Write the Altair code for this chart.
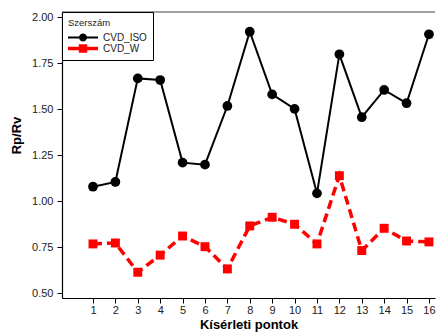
import math
import altair as alt
import pandas as pd

points = list(range(1, 17))
cvd_iso = [1.079, 1.105, 1.668, 1.659, 1.210, 1.199, 1.518, 1.922,
           1.581, 1.502, 1.043, 1.799, 1.457, 1.605, 1.533, 1.908]
cvd_w = [0.768, 0.773, 0.614, 0.707, 0.811, 0.753, 0.632, 0.866,
         0.913, 0.875, 0.768, 1.139, 0.732, 0.853, 0.784, 0.779]
series = ["CVD_ISO", "CVD_W"]
colors = ["#000000", "#ff0000"]
y_ticks = [0.5, 0.75, 1.0, 1.25, 1.5, 1.75, 2.0]

x_dom = [-0.384, 16.27]
y_dom = [0.474, 2.029]

df = pd.DataFrame({
    "pont": points * 2,
    "rprv": cvd_iso + cvd_w,
    "tool": [series[0]] * len(points) + [series[1]] * len(points),
})

FONT = "Liberation Sans"

x_scale = alt.Scale(domain=x_dom, nice=False, zero=False)
y_scale = alt.Scale(domain=y_dom, nice=False, zero=False)
x_axis = alt.Axis(values=points, format="d", title="Kísérleti pontok",
                  grid=False, tickSize=5, labelPadding=1, titlePadding=3,
                  labelOverlap=False, labelFlush=False)
y_axis = alt.Axis(values=y_ticks, format=".2f", title="Rp/Rv",
                  grid=False, tickSize=5, labelPadding=4,
                  labelOverlap=False, labelFlush=False,
                  titleX=-46, titleY=123, titleAlign="center",
                  titleBaseline="middle", titleAngle=270)
x_enc = alt.X("pont:Q", scale=x_scale, axis=x_axis)
y_enc = alt.Y("rprv:Q", scale=y_scale, axis=y_axis)

base = alt.Chart(df)
iso = base.transform_filter(alt.datum.tool == series[0])
w = base.transform_filter(alt.datum.tool == series[1])

line_iso = iso.mark_line(color=colors[0], strokeWidth=2).encode(x=x_enc, y=y_enc)
line_w = w.mark_line(color=colors[1], strokeWidth=3.5, strokeDash=[9, 5]).encode(x=x_enc, y=y_enc)
circles = iso.mark_circle(size=95, opacity=1, color=colors[0]).encode(x=x_enc, y=y_enc)
squares = w.mark_square(size=80, opacity=1, color=colors[1]).encode(x=x_enc, y=y_enc)

# legend symbols: a short line with the marker in its middle (polygon circle)
poly = "".join(
    ("M" if i == 0 else "L") + f"{2 + 0.8 * math.cos(2 * math.pi * i / 20):.3f},{0.8 * math.sin(2 * math.pi * i / 20):.3f}"
    for i in range(20)
) + "Z"
path_iso = "M-1,-0.2L5,-0.2L5,0.2L-1,0.2Z" + poly
path_w = "M-1,-0.35L5,-0.35L5,0.35L-1,0.35ZM1.15,-0.85L2.85,-0.85L2.85,0.85L1.15,0.85Z"

legend_title = "\u00a0" * 14 + "Szerszám"
leg = alt.Legend(title=legend_title, orient="top-left", offset=0,
                 strokeColor="#000000", fillColor="#ffffff", padding=6)
legend_layer = base.mark_point(filled=True, opacity=1, size=0).encode(
    x=x_enc, y=y_enc,
    color=alt.Color("tool:N", scale=alt.Scale(domain=series, range=colors), legend=leg),
    shape=alt.Shape("tool:N", scale=alt.Scale(domain=series, range=[path_iso, path_w]), legend=leg),
)

top_rule = alt.Chart(pd.DataFrame({"a": [0]})).mark_rule(color="#808080", strokeWidth=1.5).encode(
    x=alt.X(datum=x_dom[0], scale=x_scale, axis=x_axis),
    x2=alt.X2(datum=x_dom[1]),
    y=alt.Y(datum=y_dom[1], scale=y_scale, axis=y_axis))

chart = alt.layer(top_rule, line_iso, line_w, circles, squares, legend_layer).properties(
    width=373, height=286,
    autosize=alt.AutoSizeParams(type="none"),
    padding={"left": 54, "top": 4, "right": 2, "bottom": 36},
).configure_view(stroke=None).configure_axis(
    labelFont=FONT, labelFontSize=11, labelColor="#222222",
    titleFont=FONT, titleFontSize=13, titleFontWeight="bold", titleColor="#000000",
    domainColor="#000000", tickColor="#000000", domainWidth=1.2, tickWidth=1,
).configure_legend(
    strokeColor="#000000", fillColor="#ffffff", padding=6, strokeWidth=1,
    titleFont=FONT, titleFontSize=9.5, titleFontWeight="normal", titleColor="#222222",
    titlePadding=5,
    labelFont=FONT, labelFontSize=10, labelColor="#222222",
    symbolSize=100, labelOffset=25, rowPadding=1, symbolStrokeWidth=0,
)

chart.save("out.html", embed_options={"renderer": "svg", "actions": False})
